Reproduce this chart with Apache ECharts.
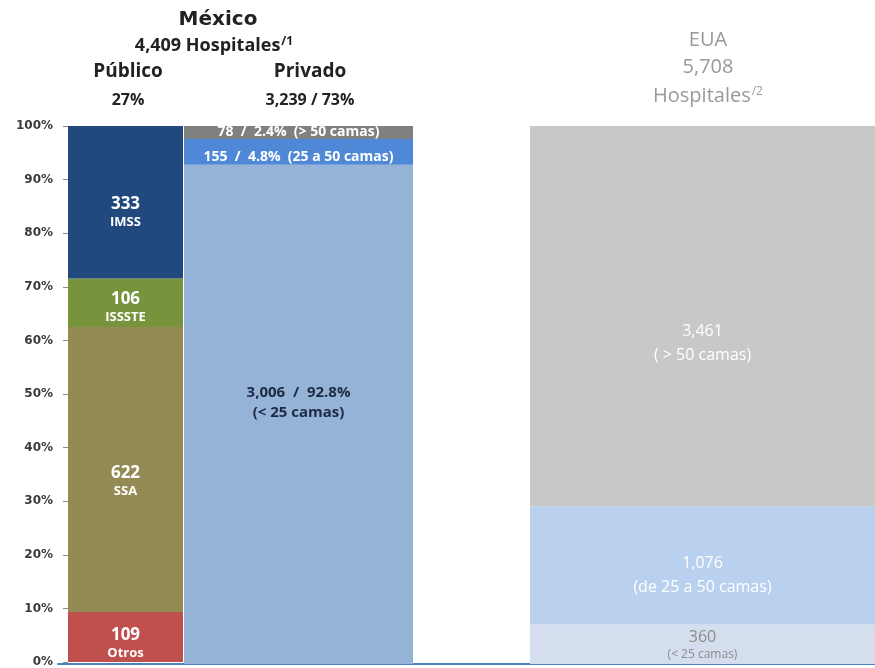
<!DOCTYPE html>
<html><head><meta charset="utf-8">
<script src="https://cdn.jsdelivr.net/npm/echarts@6/dist/echarts.min.js"></script>
<style>html,body{margin:0;padding:0;background:#fff}#c{width:875px;height:668px}</style>
</head><body><div id="c"></div>
<script>
// ---- data ----
const pubNames = ['Otros', 'SSA', 'ISSSTE', 'IMSS'];
const pubCounts = [109, 622, 106, 333];
const privNames = ['< 25 camas', '25 a 50 camas', '> 50 camas'];
const privCounts = [3006, 155, 78];
const privPct = ['92.8%', '4.8%', '2.4%'];
const euaNames = ['< 25 camas', 'de 25 a 50 camas', ' > 50 camas'];
const euaCounts = [360, 1076, 3461];
const yTicks = [0, 10, 20, 30, 40, 50, 60, 70, 80, 90, 100];
const mxTotal = '4,409';
const pubShare = '27%';
const privTotal = '3,239 / 73%';
const euaTotal = '5,708';

// ---- styles ----
const FONT = '"Open Sans", Lato, sans-serif';
const pubColors = ['#C0504D', '#948A54', '#77933C', '#21497E'];
const privColors = ['#95B3D7', '#4F88D6', '#808080'];
const euaColors = ['#D4DEEF', '#B9D0EE', '#C8C8C8'];
const pubOffsets = [[0, 6], [0, 12], [0, 4], [0, 10]];
const privOffsets = [[0, -12], [0, 5], [0, 0]];
const euaOffsets = [[0, 2], [0, 10], [0, 27]];

function fmt(n) { return n.toLocaleString('en-US'); }
function sum(a) { return a.reduce((s, v) => s + v, 0); }

const series = [];
const pubSum = sum(pubCounts);
pubCounts.forEach((c, i) => {
  series.push({
    type: 'bar', stack: 'pub', xAxisIndex: 0, yAxisIndex: 0,
    barWidth: '100%', data: [c / pubSum * 100],
    itemStyle: { color: pubColors[i] },
    label: {
      show: true, position: 'inside', offset: pubOffsets[i],
      formatter: '{a|' + fmt(c) + '}\n{b|' + pubNames[i] + '}',
      rich: {
        a: { fontFamily: FONT, fontSize: 17, fontWeight: 'bold', color: '#fff', lineHeight: 20 },
        b: { fontFamily: FONT, fontSize: 13, fontWeight: 'bold', color: '#fff', lineHeight: 16 }
      }
    }
  });
});
const privSum = sum(privCounts);
privCounts.forEach((c, i) => {
  const big = i === 0;
  series.push({
    type: 'bar', stack: 'priv', xAxisIndex: 1, yAxisIndex: 1,
    barWidth: '100%', data: [c / privSum * 100],
    itemStyle: { color: privColors[i] },
    label: {
      show: true, position: 'inside', offset: privOffsets[i],
      formatter: big
        ? fmt(c) + '  /  ' + privPct[i] + '\n(' + privNames[i] + ')'
        : fmt(c) + '  /  ' + privPct[i] + '  (' + privNames[i] + ')',
      fontFamily: FONT, fontSize: big ? 15 : 14, fontWeight: 'bold',
      color: big ? '#1F2A44' : '#fff', lineHeight: 20
    }
  });
});
const euaSum = sum(euaCounts);
euaCounts.forEach((c, i) => {
  const small = i === 0;
  series.push({
    type: 'bar', stack: 'eua', xAxisIndex: 2, yAxisIndex: 2,
    barWidth: '100%', data: [c / euaSum * 100],
    itemStyle: { color: euaColors[i] },
    label: {
      show: true, position: 'inside', offset: euaOffsets[i],
      formatter: '{a|' + fmt(c) + '}\n{b|(' + euaNames[i] + ')}',
      rich: {
        a: { fontFamily: FONT, fontSize: 16, color: small ? '#8C8C8C' : '#fff', lineHeight: small ? 17 : 24 },
        b: { fontFamily: FONT, fontSize: small ? 12 : 16, color: small ? '#8C8C8C' : '#fff', lineHeight: small ? 17 : 24 }
      }
    }
  });
});

const gridTop = 126, gridH = 538;
const hiddenX = i => ({ type: 'category', gridIndex: i, data: [''], show: false });
const hiddenY = i => ({ type: 'value', gridIndex: i, min: 0, max: 100, show: false });

const option = {
  animation: false,
  grid: [
    { left: 68, width: 115, top: gridTop, height: gridH },
    { left: 184, width: 229, top: gridTop, height: gridH },
    { left: 530, width: 345, top: gridTop, height: gridH },
    { left: 58, width: 817, top: gridTop, height: gridH }
  ],
  xAxis: [hiddenX(0), hiddenX(1), hiddenX(2), {
    type: 'category', gridIndex: 3, data: [''],
    axisLine: { show: true, lineStyle: { color: '#4F81BD', width: 2 } },
    axisTick: { show: false }, axisLabel: { show: false }
  }],
  yAxis: [{
    type: 'value', gridIndex: 0, min: yTicks[0], max: yTicks[yTicks.length - 1],
    interval: yTicks[1] - yTicks[0],
    axisLine: { show: false },
    axisTick: { show: true, length: 5, lineStyle: { color: '#8a8a8a' } },
    splitLine: { show: false },
    axisLabel: {
      formatter: '{value}%', margin: 15,
      fontFamily: '"DejaVu Sans", sans-serif', fontSize: 12,
      fontWeight: 'bold', color: '#3a3a3a'
    }
  }, hiddenY(1), hiddenY(2), hiddenY(3)],
  series: series,
  graphic: [
    { type: 'text', x: 218, y: 20, style: { text: 'México', align: 'center', verticalAlign: 'middle',
      fontFamily: '"DejaVu Sans", sans-serif', fontSize: 20, fontWeight: 'bold', fill: '#222' } },
    { type: 'text', x: 214, y: 46, style: { text: mxTotal + ' Hospitales{s|/1}', align: 'center', verticalAlign: 'middle',
      fontFamily: FONT, fontSize: 18, fontWeight: 'bold', fill: '#222',
      rich: { s: { fontFamily: FONT, fontSize: 12, fontWeight: 'bold', fill: '#222', verticalAlign: 'top', padding: [0, 0, 8, 1] } } } },
    { type: 'text', x: 128, y: 72, style: { text: 'Público', align: 'center', verticalAlign: 'middle',
      fontFamily: FONT, fontSize: 19, fontWeight: 'bold', fill: '#222' } },
    { type: 'text', x: 310, y: 72, style: { text: 'Privado', align: 'center', verticalAlign: 'middle',
      fontFamily: FONT, fontSize: 19, fontWeight: 'bold', fill: '#222' } },
    { type: 'text', x: 128, y: 100, style: { text: pubShare, align: 'center', verticalAlign: 'middle',
      fontFamily: FONT, fontSize: 16, fontWeight: 'bold', fill: '#222' } },
    { type: 'text', x: 310, y: 100, style: { text: privTotal, align: 'center', verticalAlign: 'middle',
      fontFamily: FONT, fontSize: 16, fontWeight: 'bold', fill: '#222' } },
    { type: 'text', x: 708, y: 40, style: { text: 'EUA', align: 'center', verticalAlign: 'middle',
      fontFamily: FONT, fontSize: 20, fill: '#999' } },
    { type: 'text', x: 708, y: 67, style: { text: euaTotal, align: 'center', verticalAlign: 'middle',
      fontFamily: FONT, fontSize: 20, fill: '#999' } },
    { type: 'text', x: 708, y: 96, style: { text: 'Hospitales{s|/2}', align: 'center', verticalAlign: 'middle',
      fontFamily: FONT, fontSize: 20, fill: '#999',
      rich: { s: { fontFamily: FONT, fontSize: 12, fill: '#999', verticalAlign: 'top', padding: [0, 0, 8, 1] } } } }
  ]
};
echarts.init(document.getElementById('c'), null, { renderer: 'canvas' }).setOption(option);
</script>
</body></html>
